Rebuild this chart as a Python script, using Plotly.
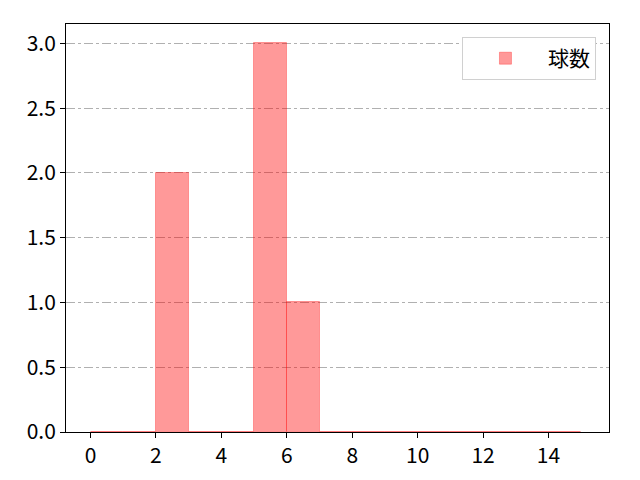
import plotly.graph_objects as go

# histogram bins (left edges) and counts
bin_left = list(range(15))
counts = [0, 0, 2, 0, 0, 3, 1, 0, 0, 0, 0, 0, 0, 0, 0]
series_name = "球数"

x_ticks = [0, 2, 4, 6, 8, 10, 12, 14]
y_ticks = [0.0, 0.5, 1.0, 1.5, 2.0, 2.5, 3.0]

font = "Noto Sans CJK JP"

fig = go.Figure()
fig.add_trace(go.Bar(
    x=bin_left, y=counts, width=1, offset=0,
    name=series_name,
    marker=dict(color="rgba(255,0,0,0.4)",
                line=dict(color="rgba(255,0,0,0.3)", width=1)),
    showlegend=True,
))

axis_common = dict(
    showline=True, linecolor="black", linewidth=1, mirror=True,
    ticks="outside", ticklen=5, tickcolor="black",
    tickfont=dict(family=font, size=21, color="black"),
    zeroline=False,
)

fig.update_xaxes(range=[-0.75, 15.85], tickvals=x_ticks, showgrid=False, **axis_common)
fig.update_yaxes(range=[0, 3.15], tickvals=y_ticks, tickformat=".1f",
                 showgrid=True, gridcolor="#b0b0b0", griddash="dashdot", gridwidth=1,
                 **axis_common)

# page body has an 8px margin, so the figure is shrunk and shifted to match
fig.update_layout(
    width=632, height=472,
    margin=dict(l=58, r=31, t=16, b=48),
    plot_bgcolor="white", paper_bgcolor="white",
    bargap=0,
    legend=dict(x=0.976, y=0.968, xanchor="right", yanchor="top",
                bgcolor="white", bordercolor="#d0d0d0", borderwidth=1,
                itemwidth=75,
                font=dict(family=font, size=21, color="black")),
)

fig.write_html("out.html")
